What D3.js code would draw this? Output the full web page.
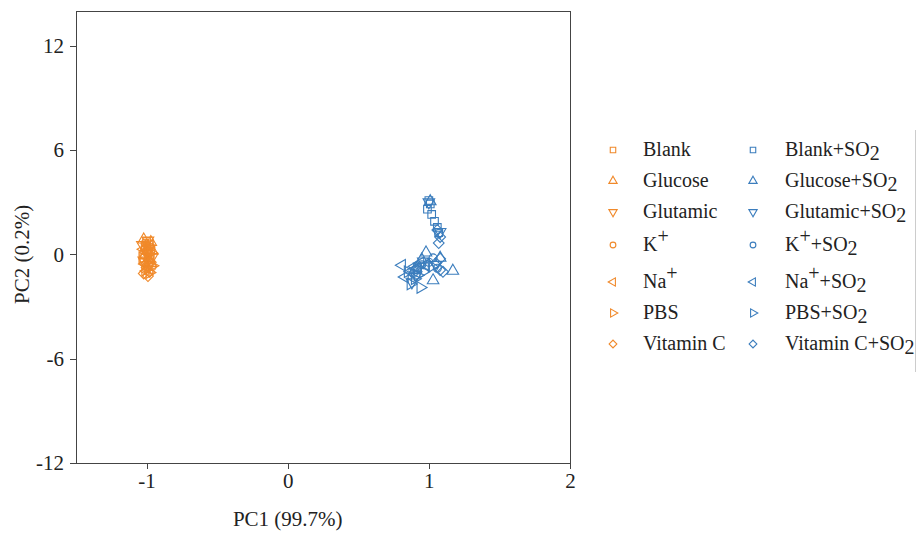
<!DOCTYPE html>
<meta charset="utf-8">
<style>
body { margin: 0; background: #fff; }
svg text { font-family: "Liberation Serif", "Times New Roman", serif; }
.axis path, .axis line { stroke: #444; fill: none; shape-rendering: crispEdges; }
.axis text { font-size: 21px; fill: #222; }
</style>
<body>
<script src="https://cdn.jsdelivr.net/npm/d3@7"></script>
<script>

var xTicks = [-1, 0, 1, 2],
    yTicks = [-12, -6, 0, 6, 12];

var labels = ["Blank", "Glucose", "Glutamic", "K+", "Na+", "PBS", "Vitamin C"];
var shapes = ["square", "up", "down", "circle", "left", "right", "diamond"];

// control samples (orange)
var blank     = [[-1.00,0.75],[-0.98,0.6],[-1.01,0.45],[-0.97,0.3],[-0.99,0.15],[-1.02,0.0],[-0.98,-0.1]];
var glucose   = [[-1.02,0.85],[-0.97,0.7],[-1.00,0.5],[-0.96,0.2],[-1.01,-0.05],[-0.99,-0.3],[-0.97,-0.5]];
var glutamic  = [[-0.99,0.8],[-1.03,0.55],[-0.98,0.35],[-1.00,0.1],[-0.96,-0.15],[-1.02,-0.35],[-0.99,-0.6]];
var kplus     = [[-1.01,0.65],[-0.97,0.4],[-1.00,0.2],[-0.98,-0.2],[-1.02,-0.45],[-0.96,-0.7],[-1.00,-0.85]];
var naplus    = [[-0.98,0.5],[-1.02,0.3],[-0.99,0.05],[-0.97,-0.25],[-1.01,-0.55],[-0.98,-0.8],[-1.00,-0.95]];
var pbs       = [[-1.00,0.35],[-0.97,0.1],[-1.03,-0.2],[-0.99,-0.4],[-0.96,-0.65],[-1.01,-0.9],[-0.98,-1.05]];
var vitc      = [[-0.99,0.25],[-1.01,-0.1],[-0.97,-0.45],[-1.00,-0.75],[-0.98,-1.0],[-1.02,-1.1],[-0.99,-1.25]];

// + SO2 samples (blue)
var blankSO2    = [[1.00,3.1],[1.01,2.9],[0.99,2.6],[1.02,2.3],[1.04,1.9],[1.06,1.55],[1.07,1.25]];
var glucoseSO2  = [[1.01,3.05],[0.98,0.1],[1.17,-0.95],[1.03,-1.5],[0.95,-0.3],[1.08,-0.2],[0.90,-0.9]];
var glutamicSO2 = [[1.00,3.0],[0.88,-1.6],[0.93,-0.7],[1.05,-0.6],[0.91,-1.2],[1.08,1.3],[0.96,-0.4]];
var kplusSO2    = [[1.00,-0.45],[0.95,-0.6],[1.06,-0.8],[0.92,-0.9],[1.03,-0.2],[0.89,-1.1],[1.07,1.2]];
var naplusSO2   = [[0.81,-0.63],[0.83,-1.3],[0.90,-0.7],[0.94,-0.5],[0.87,-1.0],[0.92,-0.8],[0.98,-0.6]];
var pbsSO2      = [[0.94,-1.9],[0.90,-1.4],[0.87,-1.7],[0.96,-1.0],[1.02,-0.7],[0.92,-1.2],[0.85,-1.0]];
var vitcSO2     = [[1.07,0.65],[1.08,1.0],[1.08,-0.9],[1.08,-0.25],[1.10,-1.0],[1.05,-0.5],[1.06,1.4]];

var control = [blank, glucose, glutamic, kplus, naplus, pbs, vitc];
var treated = [blankSO2, glucoseSO2, glutamicSO2, kplusSO2, naplusSO2, pbsSO2, vitcSO2];

var orange = "#f0892a", blue = "#3b7dbd";

var width = 918, height = 533;
var margin = {top: 11, right: 348, bottom: 70, left: 76};

var svg = d3.select("body").append("svg")
    .attr("width", width)
    .attr("height", height);

var x = d3.scaleLinear().domain([-1.5, 2]).range([margin.left, width - margin.right]);
var y = d3.scaleLinear().domain([-12, 14]).range([height - margin.bottom, margin.top]);

// frame
svg.append("rect")
    .attr("x", x(-1.5)).attr("y", y(14))
    .attr("width", x(2) - x(-1.5)).attr("height", y(-12) - y(14))
    .attr("fill", "none").attr("stroke", "#444").attr("stroke-width", 1)
    .style("shape-rendering", "crispEdges");

var xg = svg.append("g")
    .attr("class", "axis")
    .attr("transform", "translate(0," + y(-12) + ")")
    .call(d3.axisBottom(x).tickValues(xTicks).tickSize(6).tickPadding(4).tickFormat(function(d) { return String(d); }));
xg.select(".domain").remove();

var yg = svg.append("g")
    .attr("class", "axis")
    .attr("transform", "translate(" + x(-1.5) + ",0)")
    .call(d3.axisLeft(y).tickValues(yTicks).tickSize(6).tickPadding(6).tickFormat(function(d) { return String(d); }));
yg.select(".domain").remove();

svg.selectAll(".axis").attr("font-family", null).attr("font-size", null);

svg.append("text")
    .attr("x", x(0)).attr("y", 526)
    .attr("text-anchor", "middle")
    .style("font-size", "21px").style("fill", "#222")
    .text("PC1 (99.7%)");

svg.append("text")
    .attr("transform", "translate(29," + y(0) + ") rotate(-90)")
    .attr("text-anchor", "middle")
    .style("font-size", "21px").style("fill", "#222")
    .text("PC2 (0.2%)");

function symbolPath(shape, size) {
  var type = shape == "circle" ? d3.symbolCircle :
             (shape == "square" || shape == "diamond") ? d3.symbolSquare : d3.symbolTriangle;
  return d3.symbol().type(type).size(size)();
}
function symbolRotate(shape) {
  return shape == "down" ? 180 : shape == "left" ? -90 : shape == "right" ? 90 : shape == "diamond" ? 45 : 0;
}

function drawGroup(sets, color) {
  sets.forEach(function(pts, i) {
    svg.append("g").selectAll("path")
        .data(pts)
      .enter().append("path")
        .attr("d", symbolPath(shapes[i], shapes[i] == "circle" ? 50 : 58))
        .attr("transform", function(d) {
          return "translate(" + x(d[0]) + "," + y(d[1]) + ") rotate(" + symbolRotate(shapes[i]) + ")";
        })
        .attr("fill", "none")
        .attr("stroke", color)
        .attr("stroke-width", 1.1);
  });
}
drawGroup(control, orange);
drawGroup(treated, blue);

// legend
var rowY = [150, 181, 212, 245, 282, 313, 344];
var leg = svg.append("g");

function legendText(t, lbl, so2) {
  var plus = lbl.slice(-1) == "+";
  t.append("tspan").text(plus ? lbl.slice(0, -1) : lbl);
  if (plus) t.append("tspan").attr("baseline-shift", "40%").text("+");
  if (so2) {
    t.append("tspan").text("+SO");
    t.append("tspan").attr("baseline-shift", "-20%").text("2");
  }
}

labels.forEach(function(lbl, i) {
  [[orange, 613, 643, false], [blue, 753, 785, true]].forEach(function(c) {
    leg.append("path")
        .attr("d", symbolPath(shapes[i], shapes[i] == "circle" ? 26 : 30))
        .attr("transform", "translate(" + c[1] + "," + rowY[i] + ") rotate(" + symbolRotate(shapes[i]) + ")")
        .attr("fill", "none").attr("stroke", c[0]).attr("stroke-width", 1.1);
    var t = leg.append("text")
        .attr("x", c[2]).attr("y", rowY[i] + 6)
        .style("font-size", "20px").style("fill", "#222");
    legendText(t, lbl, c[3]);
  });
});

// clipped legend border on the right
svg.append("line")
    .attr("x1", 915.5).attr("x2", 915.5).attr("y1", 130).attr("y2", 372)
    .attr("stroke", "#ccc");

</script>
